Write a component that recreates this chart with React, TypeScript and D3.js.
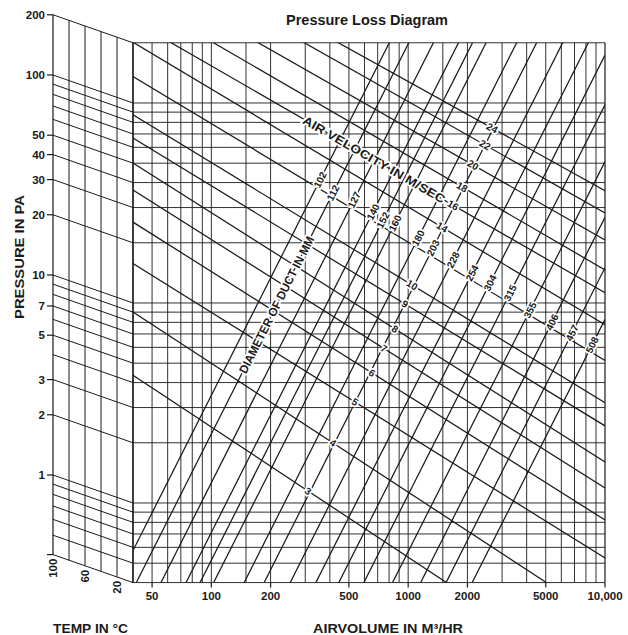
import React from 'react';
import * as d3 from 'd3';

// ---- data ----
const AIRVOLUME_TICKS = [50, 100, 200, 500, 1000, 2000, 5000, 10000];
const AIRVOLUME_TICK_LABELS = ['50', '100', '200', '500', '1000', '2000', '5000', '10,000'];
const AIRVOLUME_GRID = [40, 50, 60, 70, 80, 90, 100, 150, 200, 300, 400, 500, 600, 700, 800, 900, 1000, 1500, 2000, 3000, 4000, 5000, 6000, 7000, 8000, 9000, 10000];
const PRESSURE_TICKS = [200, 100, 50, 40, 30, 20, 10, 7, 5, 3, 2, 1, 0.4];
const PRESSURE_TICK_LABELS = ['200', '100', '50', '40', '30', '20', '10', '7', '5', '3', '2', '1', ''];
const PRESSURE_GRID = [200, 100, 90, 80, 70, 60, 50, 40, 30, 20, 10, 9, 8, 7, 6, 5, 4, 3, 2, 1, 0.9, 0.8, 0.7, 0.6, 0.5, 0.4];
const TEMP_GRID = [100, 80, 60, 40, 20, 0];
const TEMP_LABELS = [100, 60, 20];
const TEMP_PRESSURE_RATIO = 1.38; // pressure at 100 °C edge vs 0 °C edge

// duct diameter lines: pressure at 1000 m³/h, common exponent
const DIAMETERS = [102, 112, 127, 140, 152, 160, 180, 203, 228, 254, 304, 315, 355, 406, 457, 508];
const DUCT_P_AT_1000 = [222.9, 142.9, 81.5, 46.0, 33.4, 24.5, 12.2, 7.74, 4.27, 2.38, 1.41, 0.796, 0.414, 0.218, 0.122, 0.0673];
const DUCT_LABEL_Q = [357, 415, 531, 663, 745, 858, 1123, 1338, 1691, 2112, 2606, 3293, 4162, 5384, 6806, 8597];
const DUCT_EXPONENT = 1.95;

// air velocity lines: pressure at 1000 m³/h and slope of each line
const VELOCITIES = [3, 4, 5, 6, 7, 8, 9, 10, 12, 14, 16, 18, 20, 22, 24];
const VEL_P_AT_1000 = [0.388, 0.821, 1.58, 2.49, 3.6, 4.88, 7.01, 9.16, 14.6, 21.9, 30.1, 39.5, 54.3, 73.7, 92.8];
const VEL_EXPONENTS = [-0.651, -0.644, -0.614, -0.621, -0.621, -0.623, -0.6, -0.6, -0.592, -0.589, -0.567, -0.571, -0.56, -0.557, -0.546];
const VEL_LABEL_Q = [310, 415, 537, 655, 754, 858, 964, 1046, 0, 1486, 1690, 1878, 2136, 2458, 2669];

const VEL_TITLE = 'AIR VELOCITY IN M/SEC';
const VEL_TITLE_Q = 671;
const VEL_TITLE_V = 16;
const DUCT_TITLE = 'DIAMETER OF DUCT IN MM';
const DUCT_TITLE_P = 7.1;
const DUCT_TITLE_D = 112;

const FONT = '"Liberation Sans", Arial, Helvetica, sans-serif';

export default function App() {
  const W = 628, H = 635;
  const x = d3.scaleLog().domain([40, 10000]).range([133, 605]);
  const y = d3.scaleLog().domain([1, 100]).range([475, 75]);
  const tx = d3.scaleLinear().domain([100, 0]).range([53, 133]);
  const tempFactor = (t: number) => Math.pow(TEMP_PRESSURE_RATIO, (t - 100) / 100);

  const pTop = PRESSURE_GRID[0] / TEMP_PRESSURE_RATIO;
  const pBot = PRESSURE_GRID[PRESSURE_GRID.length - 1] / TEMP_PRESSURE_RATIO;
  const yTop = y(pTop), yBot = y(pBot);
  const xL = x(40), xR = x(10000);

  const ductP = (i: number, q: number) => DUCT_P_AT_1000[i] * Math.pow(q / 1000, DUCT_EXPONENT);
  const velP = (i: number, q: number) => VEL_P_AT_1000[i] * Math.pow(q / 1000, VEL_EXPONENTS[i]);
  const line = d3.line<[number, number]>().x(d => x(d[0])).y(d => y(d[1]));

  const angleOf = (f: (q: number) => number) =>
    Math.atan2(y(f(2000)) - y(f(1000)), x(2000) - x(1000)) * 180 / Math.PI;
  const ductAngle = angleOf(q => ductP(0, q));

  const halo = { paintOrder: 'stroke' as const, stroke: '#fff', strokeWidth: 3.5, strokeLinejoin: 'round' as const };
  const ink = '#1a1a1a';

  const vti = VELOCITIES.indexOf(VEL_TITLE_V);
  const velTitleY = y(velP(vti, VEL_TITLE_Q));
  const di = DIAMETERS.indexOf(DUCT_TITLE_D);
  const ductTitleQ = 1000 * Math.pow(DUCT_TITLE_P / DUCT_P_AT_1000[di], 1 / DUCT_EXPONENT);

  return (
    <svg width={W} height={H} style={{ display: 'block', position: 'absolute', left: 0, top: 0, background: '#fff' }} fontFamily={FONT}>
      <defs>
        <clipPath id="main">
          <rect x={xL} y={yTop} width={xR - xL} height={yBot - yTop} />
        </clipPath>
      </defs>

      {/* title */}
      <text x={367} y={25} textAnchor="middle" fontSize={14.5} fontWeight="bold" fill={ink}>Pressure Loss Diagram</text>

      {/* ---- temperature panel ---- */}
      {TEMP_GRID.map(t => (
        <line key={'tv' + t} x1={tx(t)} x2={tx(t)} y1={y(PRESSURE_GRID[0] * tempFactor(t))} y2={y(pBot * TEMP_PRESSURE_RATIO * tempFactor(t))} stroke={ink} strokeWidth={t === 100 || t === 0 ? 1.2 : 1} />
      ))}
      {PRESSURE_GRID.map(p => (
        <line key={'ts' + p} x1={tx(100)} y1={y(p)} x2={tx(0)} y2={y(p / TEMP_PRESSURE_RATIO)} stroke={ink} strokeWidth={1} />
      ))}
      {PRESSURE_TICKS.map((p, i) => (
        <g key={'pt' + p}>
          <line x1={tx(100) - 6} x2={tx(100)} y1={y(p)} y2={y(p)} stroke={ink} strokeWidth={1.2} />
          <text x={tx(100) - 8} y={y(p)} dy="0.35em" textAnchor="end" fontSize={11.5} fontWeight="bold" fill={ink}>{PRESSURE_TICK_LABELS[i]}</text>
        </g>
      ))}
      {TEMP_LABELS.map(t => (
        <text key={'tl' + t} transform={`translate(${tx(t) + 4},${y(pBot * TEMP_PRESSURE_RATIO * tempFactor(t)) + 4}) rotate(-90)`} textAnchor="end" fontSize={11.5} fontWeight="bold" fill={ink}>{t}</text>
      ))}

      {/* ---- main grid ---- */}
      {AIRVOLUME_GRID.map(q => (
        <line key={'qv' + q} x1={x(q)} x2={x(q)} y1={yTop} y2={yBot} stroke={ink} strokeWidth={q === 40 || q === 10000 ? 1.2 : 0.9} />
      ))}
      {PRESSURE_GRID.map(p => (
        <line key={'ph' + p} x1={xL} x2={xR} y1={y(p / TEMP_PRESSURE_RATIO)} y2={y(p / TEMP_PRESSURE_RATIO)} stroke={ink} strokeWidth={0.9} />
      ))}
      {AIRVOLUME_TICKS.map((q, i) => (
        <g key={'qt' + q}>
          <line x1={x(q)} x2={x(q)} y1={yBot} y2={yBot + 5} stroke={ink} strokeWidth={1.2} />
          <text x={x(q)} y={yBot + 17} textAnchor="middle" fontSize={11.5} fontWeight="bold" fill={ink}>{AIRVOLUME_TICK_LABELS[i]}</text>
        </g>
      ))}

      {/* ---- diagonal families ---- */}
      <g clipPath="url(#main)" fill="none" stroke={ink} strokeWidth={1.25}>
        {DIAMETERS.map((d, i) => (
          <path key={'d' + d} d={line([[40, ductP(i, 40)], [10000, ductP(i, 10000)]]) || ''} />
        ))}
        {VELOCITIES.map((v, i) => (
          <path key={'v' + v} d={line([[40, velP(i, 40)], [10000, velP(i, 10000)]]) || ''} />
        ))}
      </g>

      {/* ---- line labels ---- */}
      <g fontSize={10} fill={ink} fontWeight="bold">
        {DIAMETERS.map((d, i) => (
          <text key={'dl' + d} {...halo} transform={`translate(${x(DUCT_LABEL_Q[i])},${y(ductP(i, DUCT_LABEL_Q[i]))}) rotate(${ductAngle})`} textAnchor="middle" dy="0.35em">{d}</text>
        ))}
        {VELOCITIES.map((v, i) => VEL_LABEL_Q[i] > 0 ? (
          <text key={'vl' + v} {...halo} transform={`translate(${x(VEL_LABEL_Q[i])},${y(velP(i, VEL_LABEL_Q[i]))}) rotate(${angleOf(q => velP(i, q))})`} textAnchor="middle" dy="0.35em">{v}</text>
        ) : null)}
      </g>
      <text {...halo} transform={`translate(${x(VEL_TITLE_Q)},${velTitleY}) rotate(${angleOf(q => velP(vti, q))})`} textAnchor="middle" dy="0.35em" fontSize={12} fontWeight="bold" fill={ink} textLength={162} lengthAdjust="spacingAndGlyphs">{VEL_TITLE}</text>
      <text {...halo} transform={`translate(${x(ductTitleQ)},${y(DUCT_TITLE_P)}) rotate(${ductAngle})`} textAnchor="middle" dy="0.35em" fontSize={12} fontWeight="bold" fill={ink} textLength={152} lengthAdjust="spacingAndGlyphs">{DUCT_TITLE}</text>

      {/* ---- axis titles ---- */}
      <text transform="translate(24,257) rotate(-90)" textAnchor="middle" fontSize={12.5} fontWeight="bold" fill={ink} textLength={124} lengthAdjust="spacingAndGlyphs">PRESSURE IN PA</text>
      <text x={53} y={633} fontSize={12.5} fontWeight="bold" fill={ink} textLength={75} lengthAdjust="spacingAndGlyphs">TEMP IN °C</text>
      <text x={388} y={633} textAnchor="middle" fontSize={12.5} fontWeight="bold" fill={ink} textLength={150} lengthAdjust="spacingAndGlyphs">AIRVOLUME IN M³/HR</text>
    </svg>
  );
}
